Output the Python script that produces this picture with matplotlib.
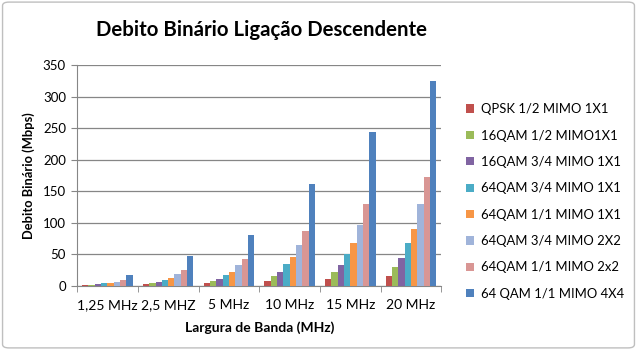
import numpy as np
import matplotlib.pyplot as plt
from matplotlib.patches import FancyBboxPatch

plt.rcParams['font.family'] = ['Lato', 'DejaVu Sans']

# categorias (largura de banda)
categorias = ['1,25 MHz', '2,5 MHZ', '5 MHz', '10 MHz', '15 MHz', '20 MHz']

# series (Mbps)
series = ['QPSK 1/2 MIMO 1X1', '16QAM 1/2 MIMO1X1', '16QAM 3/4 MIMO 1X1',
          '64QAM 3/4 MIMO 1X1', '64QAM 1/1 MIMO 1X1', '64QAM 3/4 MIMO 2X2',
          '64QAM 1/1 MIMO 2x2', '64 QAM 1/1 MIMO 4X4']
qpsk_12 = [1, 1.8, 3.5, 7.5, 10, 14.5]
qam16_12 = [1.5, 3.7, 7, 15, 22, 29]
qam16_34 = [2.5, 6, 10.5, 22, 33, 44]
qam64_34 = [3.5, 9, 16.5, 33.5, 50, 67]
qam64_11 = [4.3, 12.8, 22, 45, 67, 89.5]
qam64_34_2x2 = [6, 18.7, 32, 64, 96, 129]
qam64_11_2x2 = [8.5, 25, 42.5, 86, 129, 172]
qam64_11_4x4 = [16.5, 47.5, 80, 162, 244, 325]
valores = [qpsk_12, qam16_12, qam16_34, qam64_34, qam64_11,
           qam64_34_2x2, qam64_11_2x2, qam64_11_4x4]

cores = ['#C0504D', '#9BBB59', '#8064A2', '#4BACC6', '#F79646',
         '#A0B4DA', '#D99694', '#4F81BD']

fig = plt.figure(figsize=(6.37, 3.5), dpi=100)
ax = fig.add_axes([0.121, 0.184, 0.572, 0.630])

x = np.arange(len(categorias))
w = 0.104
for i, (nome, v) in enumerate(zip(series, valores)):
    ax.bar(x + (i - 3.5) * w, v, width=w, color=cores[i], label=nome, zorder=3)

ax.set_xlim(-0.5, len(categorias) - 0.5)
ax.set_ylim(0, 350)
ax.set_yticks(range(0, 351, 50))
ax.yaxis.grid(True, color='#868686', lw=0.9, zorder=0)
ax.set_xticks(x)
ax.set_xticklabels(categorias, fontsize=10)
ax.set_xticks(np.arange(-0.5, len(categorias)), minor=True)
ax.tick_params(axis='x', which='major', length=0, pad=10)
ax.tick_params(axis='x', which='minor', length=4, color='#868686')
ax.tick_params(axis='y', length=4, color='#868686', labelsize=9.5, pad=4)
for s in ['top', 'right']:
    ax.spines[s].set_visible(False)
for s in ['left', 'bottom']:
    ax.spines[s].set_color('#868686')

ax.set_ylabel('Debito Binário (Mbps)', fontsize=9.3, fontweight='bold', labelpad=6)
ax.set_xlabel('Largura de Banda (MHz)', fontsize=10, fontweight='bold', labelpad=7)
fig.text(261 / 637, 1 - 30 / 350, 'Debito Binário Ligação Descendente',
         fontsize=14.7, fontweight='bold', ha='center', va='center')

ax.legend(loc='upper left', bbox_to_anchor=(461 / 637, 1 - 98 / 350),
          bbox_transform=fig.transFigure, frameon=False, fontsize=9.4,
          handlelength=0.6, handleheight=0.6, handletextpad=0.55,
          labelspacing=1.1, borderaxespad=0)

fig.patches.append(FancyBboxPatch((0.004, 0.006), 0.992, 0.988,
                                  boxstyle='round,pad=0,rounding_size=0.01',
                                  transform=fig.transFigure, fill=False,
                                  ec='#BFBFBF', lw=1))

fig.savefig('out.png', dpi=100)
